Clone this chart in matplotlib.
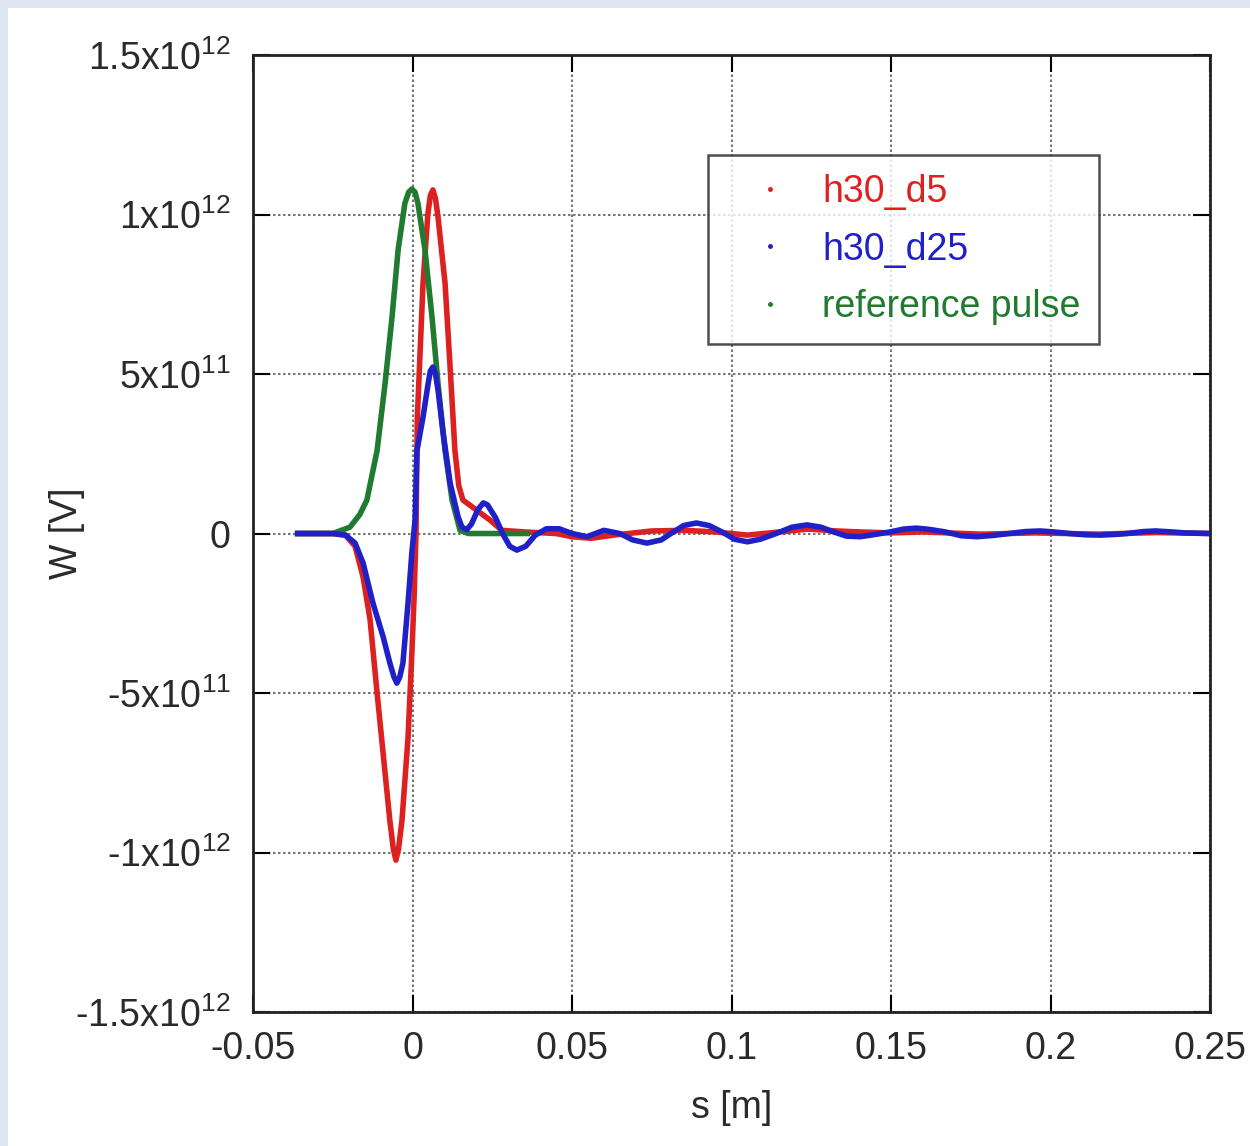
import matplotlib
matplotlib.use("Agg")
import matplotlib.pyplot as plt
from matplotlib.lines import Line2D
from matplotlib.patches import Rectangle

# valeurs (W en unites de 1e11 V)
s_red = [-0.036, -0.025, -0.021, -0.018, -0.0155, -0.0133, -0.0111, -0.0092, -0.0071,
         -0.0060, -0.0052, -0.0044, -0.0033, -0.0014, -0.0002, 0.0005, 0.0011, 0.0015,
         0.0033, 0.0048, 0.0056, 0.0064, 0.0072, 0.0080, 0.0102, 0.0118, 0.0133, 0.0145,
         0.0158, 0.020, 0.0243, 0.028, 0.035, 0.045, 0.050, 0.056, 0.063, 0.075, 0.085,
         0.095, 0.105, 0.115, 0.124, 0.133, 0.140, 0.150, 0.160, 0.178, 0.195, 0.215,
         0.233, 0.25]
w_red = [0, 0, -0.05, -0.4, -1.36, -2.7, -5.0, -6.9, -9.0,
         -9.9, -10.24, -9.9, -9.0, -6.4, -3.75, -2.0, 0.0, 3.6,
         7.85, 10.0, 10.6, 10.77, 10.5, 9.92, 7.85, 5.2, 2.6, 1.5,
         1.05, 0.74, 0.42, 0.1, 0.05, 0.0, -0.1, -0.15, -0.05, 0.08, 0.1,
         0.05, -0.05, 0.05, 0.14, 0.08, 0.05, 0.02, 0.05, -0.02, 0.02, -0.02,
         0.03, 0.0]

s_blue = [-0.036, -0.025, -0.021, -0.018, -0.0155, -0.0124, -0.0092, -0.0071, -0.0058,
          -0.0049, -0.0040, -0.0030, -0.0014, -0.0002, 0.0008, 0.0014, 0.0033, 0.0049,
          0.0056, 0.0064, 0.0072, 0.0080, 0.0096, 0.0118, 0.0143, 0.0155, 0.017, 0.0185,
          0.0205, 0.0222, 0.0235, 0.0260, 0.0285, 0.0305, 0.0327, 0.0355, 0.0385, 0.042,
          0.046, 0.050, 0.0547, 0.060, 0.065, 0.069, 0.0735, 0.078, 0.081, 0.085, 0.089,
          0.093, 0.097, 0.101, 0.105, 0.109, 0.114, 0.119, 0.1237, 0.128, 0.132, 0.136,
          0.1403, 0.145, 0.1497, 0.154, 0.158, 0.162, 0.167, 0.172, 0.177, 0.182, 0.187,
          0.192, 0.1967, 0.201, 0.206, 0.211, 0.2155, 0.220, 0.224, 0.229, 0.233, 0.238,
          0.242, 0.25]
w_blue = [0, 0, -0.05, -0.3, -0.92, -2.18, -3.24, -4.06, -4.5,
          -4.69, -4.5, -4.06, -2.18, -0.6, 0.42, 2.6, 3.65, 4.7,
          5.1, 5.22, 5.0, 4.5, 3.15, 1.58, 0.52, 0.2, 0.12, 0.3,
          0.75, 0.96, 0.9, 0.5, -0.05, -0.4, -0.52, -0.4, -0.05, 0.15,
          0.15, 0.0, -0.1, 0.1, 0.0, -0.2, -0.3, -0.2, 0.0, 0.25, 0.33,
          0.25, 0.05, -0.18, -0.26, -0.18, 0.0, 0.2, 0.27, 0.2, 0.05, -0.08,
          -0.1, -0.03, 0.05, 0.14, 0.17, 0.13, 0.05, -0.07, -0.1, -0.06, 0.0,
          0.06, 0.08, 0.05, 0.0, -0.04, -0.05, -0.03, 0.0, 0.06, 0.08, 0.05,
          0.02, 0.0]

s_ref = [-0.036, -0.025, -0.0196, -0.0165, -0.0143, -0.0111, -0.0086, -0.0064, -0.0045,
         -0.0024, -0.0012, -0.0002, 0.0008, 0.0017, 0.0039, 0.0061, 0.0080, 0.0102,
         0.0124, 0.0149, 0.0175, 0.036]
w_ref = [0, 0, 0.2, 0.6, 1.05, 2.6, 4.7, 6.8, 8.9,
         10.35, 10.7, 10.8, 10.7, 10.35, 8.9, 6.8, 4.7, 2.6,
         1.05, 0.1, 0, 0]

labels = ["h30_d5", "h30_d25", "reference pulse"]
colors = ["#dd2020", "#2020c8", "#207a30"]

x_ticks = [-0.05, 0, 0.05, 0.1, 0.15, 0.2, 0.25]
x_ticklabels = ["-0.05", "0", "0.05", "0.1", "0.15", "0.2", "0.25"]
y_ticks = [-1.5e12, -1e12, -5e11, 0, 5e11, 1e12, 1.5e12]
y_ticklabels = ["-1.5x10$^{12}$", "-1x10$^{12}$", "-5x10$^{11}$", "0",
                "5x10$^{11}$", "1x10$^{12}$", "1.5x10$^{12}$"]

plt.rcParams["font.family"] = ["Liberation Sans Narrow", "Liberation Sans", "DejaVu Sans"]
plt.rcParams["mathtext.fontset"] = "custom"
plt.rcParams["mathtext.rm"] = "Liberation Sans"
plt.rcParams["mathtext.default"] = "regular"

fig = plt.figure(figsize=(12.5, 11.46), dpi=100, facecolor="#dde6f0")
fig.patches.append(Rectangle((8 / 1250, 0), 1, 1 - 8 / 1146, transform=fig.transFigure,
                             facecolor="white", edgecolor="none", zorder=-10))
ax = fig.add_axes([0.2024, 0.1169, 0.7656, 0.8351])

ax.plot(s_red, [v * 1e11 for v in w_red], color=colors[0], lw=4, zorder=3)
ax.plot(s_ref, [v * 1e11 for v in w_ref], color=colors[2], lw=4, zorder=4)
ax.plot(s_blue, [v * 1e11 for v in w_blue], color=colors[1], lw=4, zorder=5)

ax.set_xlim(-0.05, 0.25)
ax.set_ylim(-1.5e12, 1.5e12)
ax.set_xticks(x_ticks)
ax.set_xticklabels(x_ticklabels)
ax.set_yticks(y_ticks)
ax.set_yticklabels(y_ticklabels)
ax.tick_params(direction="in", length=12, width=1.5, top=True, right=True,
               labelsize=27, labelcolor="#2a2a2a")
ax.tick_params(axis="x", pad=14)
ax.tick_params(axis="y", pad=16)
for sp in ax.spines.values():
    sp.set_linewidth(2)
    sp.set_color("#222222")
ax.grid(True, color="#777777", linestyle=(0, (1.2, 1.2)), linewidth=1.5)

ax.set_xlabel("s [m]", fontsize=27, color="#2a2a2a")
ax.set_ylabel("W [V]", fontsize=27, color="#2a2a2a")
ax.xaxis.set_label_coords(0.5, -0.0815)
ax.yaxis.set_label_coords(-0.1755, 0.5)

handles = [Line2D([], [], color=c, marker=".", markersize=5, linestyle="none") for c in colors]
leg = ax.legend(handles, labels, loc="upper left", bbox_to_anchor=(0.4754, 0.8955),
                borderaxespad=0, fontsize=27, labelcolor=colors, frameon=True,
                fancybox=False, handlelength=2.3, handletextpad=0.25, borderpad=0.5,
                labelspacing=0.58)
leg.get_frame().set_edgecolor("#222222")
leg.get_frame().set_linewidth(1.8)
leg.set_zorder(6)

fig.savefig("out.png", dpi=100, facecolor=fig.get_facecolor())
